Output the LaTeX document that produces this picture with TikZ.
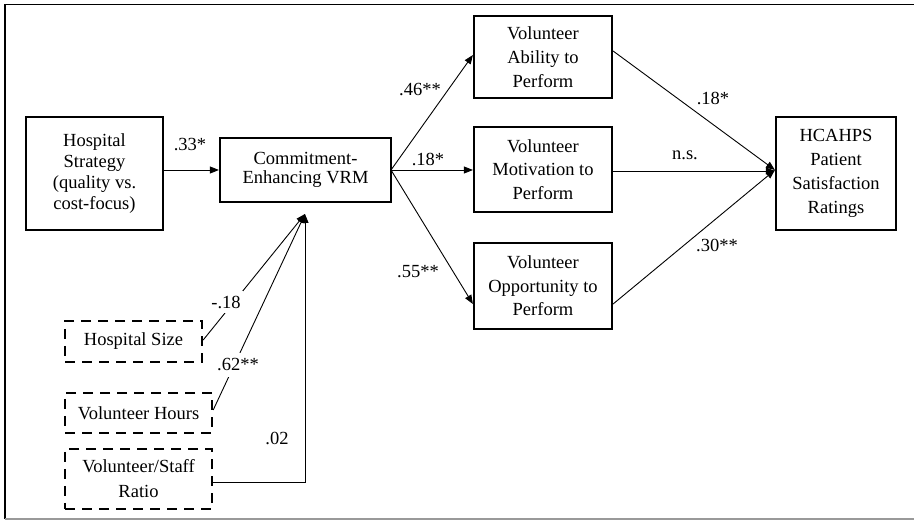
\documentclass[tikz,border=0pt]{standalone}
\usepackage{fontspec}
\setmainfont{Liberation Serif}
\usetikzlibrary{arrows.meta}
\begin{document}
\begin{tikzpicture}[x=1pt,y=-1pt,
  box/.style={draw, line width=2.2pt, align=center, inner sep=0pt, font=\fontsize{18.5}{23.5}\selectfont},
  dbox/.style={draw, line width=2.4pt, dash pattern=on 10pt off 7pt, align=center, inner sep=0pt, font=\fontsize{18.5}{25}\selectfont},
  arr/.style={line width=0.9pt, -{Triangle[length=9pt,width=7pt]}},
  lab/.style={font=\fontsize{18.5}{20}\selectfont, inner sep=1pt}]
\useasboundingbox (0,0) rectangle (914,521);
\draw[line width=1.3pt] (914,4.5) -- (5,4.5) -- (5,519);
\draw[line width=1pt, black!40] (5,519) -- (914,519);
% solid boxes
\node[box, minimum width=137pt, minimum height=113pt, font=\fontsize{18.5}{21}\selectfont] (hs) at (94.5,173.5) {Hospital\\Strategy\\(quality vs.\\cost-focus)};
\node[box, minimum width=171pt, minimum height=64pt, font=\fontsize{18.5}{19.5}\selectfont] (vrm) at (305.5,170) {Commitment-\\Enhancing VRM};
\node[box, minimum width=138pt, minimum height=82pt, font=\fontsize{18.5}{24}\selectfont] (ab) at (543,57) {Volunteer\\Ability to\\Perform};
\node[box, minimum width=138pt, minimum height=85pt] (mo) at (543,169.5) {Volunteer\\Motivation to\\Perform};
\node[box, minimum width=138pt, minimum height=86pt] (op) at (543,286) {Volunteer\\Opportunity to\\Perform};
\node[box, minimum width=120pt, minimum height=113pt, font=\fontsize{18.5}{24}\selectfont] (hc) at (836,173.5) {HCAHPS\\Patient\\Satisfaction\\Ratings};
% dashed boxes
\node[dbox, minimum width=137pt, minimum height=41pt] (hsz) at (133.5,341.5) {Hospital Size};
\node[dbox, minimum width=147pt, minimum height=40pt] (vh) at (138.5,413) {Volunteer Hours};
\node[dbox, minimum width=147pt, minimum height=60pt] (vs) at (138.5,479) {Volunteer/Staff\\Ratio};
% coordinates
\coordinate (tip) at (305,214);
\coordinate (vrmR) at (391,170);
\coordinate (corner) at (305,482);
% arrows
\draw[arr] (hs.east |- 0,170) -- (vrm.west |- 0,170);
\draw[arr] (vrmR) -- (ab.west |- 0,55);
\draw[arr] (vrmR) -- (mo.west |- 0,170);
\draw[arr] (vrmR) -- (op.west |- 0,304);
\draw[arr] (ab.east |- 0,51) -- (hc.west |- 0,170);
\draw[arr] (mo.east |- 0,171) -- (hc.west |- 0,171);
\draw[arr] (op.east |- 0,304) -- (hc.west |- 0,170);
\draw[arr] (hsz.east |- 0,340) -- (tip);
\draw[arr] (vh.east |- 0,410) -- (tip);
\draw[arr] (vs.east |- 0,482) -- (corner) -- (tip);
% labels
\node[lab] (l1) at (190,145) {.33*};
\node[lab] (l2) at (420,90) {.46**};
\node[lab] (l3) at (428,159) {.18*};
\node[lab] (l4) at (418,272) {.55**};
\node[lab] (l5) at (713,98) {.18*};
\node[lab] (l6) at (685,155) {n.s.};
\node[lab] (l7) at (717,245) {.30**};
\node[lab, fill=white, inner xsep=2pt, inner ysep=5pt] (l8) at (226,302) {-.18};
\node[lab, fill=white, inner xsep=2pt, inner ysep=6pt] (l9) at (238,365) {.62**};
\node[lab] (l10) at (277,438) {.02};
\end{tikzpicture}
\end{document}
